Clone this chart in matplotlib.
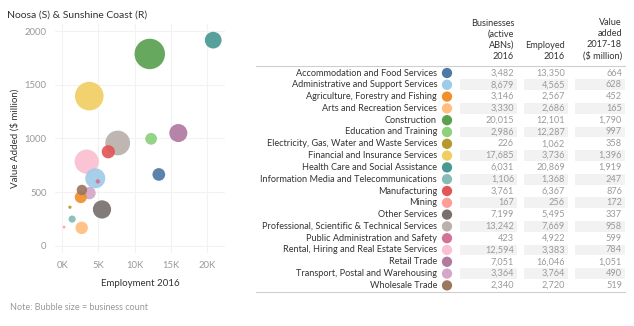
import numpy as np
import matplotlib
matplotlib.use('Agg')
import matplotlib.pyplot as plt
from matplotlib.patches import Rectangle

plt.rcParams['font.family'] = ['Lato', 'DejaVu Sans']

industries = ['Accommodation and Food Services', 'Administrative and Support Services',
              'Agriculture, Forestry and Fishing', 'Arts and Recreation Services',
              'Construction', 'Education and Training',
              'Electricity, Gas, Water and Waste Services', 'Financial and Insurance Services',
              'Health Care and Social Assistance', 'Information Media and Telecommunications',
              'Manufacturing', 'Mining', 'Other Services',
              'Professional, Scientific & Technical Services', 'Public Administration and Safety',
              'Rental, Hiring and Real Estate Services', 'Retail Trade',
              'Transport, Postal and Warehousing', 'Wholesale Trade']
businesses = [3482, 8679, 3146, 3330, 20015, 2986, 226, 17685, 6031, 1106,
              3761, 167, 7199, 13242, 423, 12594, 7051, 3364, 2340]
employed = [13350, 4565, 2567, 2686, 12101, 12287, 1062, 3736, 20869, 1368,
            6367, 256, 5495, 7669, 4922, 3383, 16046, 3764, 2720]
value_added = [664, 628, 452, 165, 1790, 997, 358, 1396, 1919, 247,
               876, 172, 337, 958, 599, 784, 1051, 490, 519]
colors = ['#4E79A7', '#A0CBE8', '#F28E2B', '#FFBE7D', '#59A14F', '#8CD17D',
          '#B6992D', '#F1CE63', '#499894', '#86BCB6', '#E15759', '#FF9D9A',
          '#79706E', '#BAB0AC', '#D37295', '#FABFD2', '#B07AA1', '#D4A6C8', '#9D7660']

W, H = 634, 326
fig = plt.figure(figsize=(W / 100, H / 100), dpi=100)

# ---- bubble chart ----
ax = fig.add_axes([55 / W, 1 - 253 / H, 170 / W, 229 / H])
order = np.argsort(businesses)[::-1]
for i in order:
    ax.scatter(employed[i], value_added[i], s=businesses[i] * 0.024,
               color=colors[i], alpha=0.92, edgecolors='none', zorder=3)
ax.set_xlim(-1000, 22500)
ax.set_ylim(-70, 2070)
ax.set_xticks([0, 5000, 10000, 15000, 20000])
ax.set_xticklabels(['0K', '5K', '10K', '15K', '20K'])
ax.set_yticks([0, 500, 1000, 1500, 2000])
ax.grid(True, color='#f2f2f2', linewidth=0.8)
for s in ax.spines.values():
    s.set_visible(False)
ax.tick_params(length=0, labelsize=6.8, colors='#999999', pad=6)
ax.set_xlabel('Employment 2016', fontsize=7, color='#333333', labelpad=6)
ax.set_ylabel('Value Added ($ million)', fontsize=7, color='#333333', labelpad=4)

fig.text(7 / W, 1 - 15 / H, 'Noosa (S) & Sunshine Coast (R)', fontsize=7.5,
         color='#333333', va='center', ha='left')
fig.text(10 / W, 1 - 308 / H, 'Note: Bubble size = business count', fontsize=6.5,
         color='#999999', va='center', ha='left')

# ---- table ----
tx = fig.add_axes([0, 0, 1, 1])
tx.set_xlim(0, W)
tx.set_ylim(H, 0)
tx.axis('off')

row0, dy = 73, 11.8
label_x, dot_x = 437, 447
cols = [(460, 517, businesses), (524, 568, employed), (575, 625, value_added)]

hdrs = ['Businesses\n(active\nABNs)\n2016', 'Employed\n2016', 'Value\nadded\n2017-18\n($ million)']
for (x0, x1, _), h in zip(cols, hdrs):
    tx.text(x1 - 3, 61, h, ha='right', va='bottom', fontsize=6.6, color='#333333',
            linespacing=1.3)

tx.plot([256, 625], [66, 66], color='#cfcfcf', lw=0.8)
tx.plot([256, 625], [row0 + dy * (len(industries) - 1) + 6.5] * 2, color='#cfcfcf', lw=0.8)

for r, name in enumerate(industries):
    y = row0 + r * dy
    if r % 2 == 1:
        for x0, x1, _ in cols:
            tx.add_patch(Rectangle((x0, y - dy / 2 + 0.5), x1 - x0, dy - 1,
                                   color='#f2f2f2', lw=0))
    tx.text(label_x, y, name, ha='right', va='center', fontsize=6.6, color='#333333')
    for x0, x1, vals in cols:
        tx.text(x1 - 3, y, f'{vals[r]:,}', ha='right', va='center', fontsize=6.6,
                color='#9a9a9a')
tx.scatter([dot_x] * len(industries), [row0 + r * dy for r in range(len(industries))],
           s=55, c=colors, edgecolors='none', zorder=3)

fig.savefig('out.png', dpi=100)
